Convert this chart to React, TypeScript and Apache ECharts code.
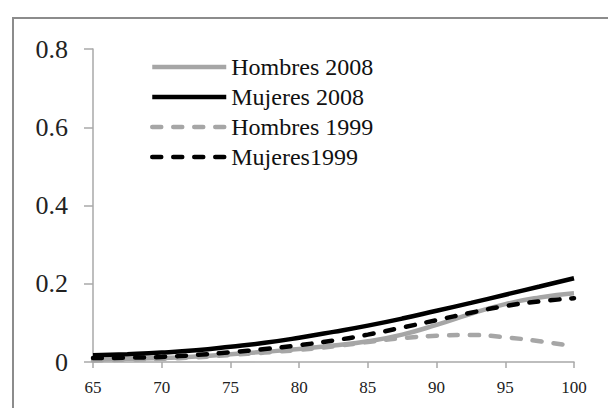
import React, { useEffect, useRef } from "react";
import * as echarts from "echarts";

const ages = [65, 67.5, 70, 72.5, 75, 77.5, 80, 82.5, 85, 87.5, 90, 92.5, 95, 97.5, 100];
const hombres2008 = [0.006, 0.008, 0.010, 0.014, 0.020, 0.026, 0.033, 0.042, 0.053, 0.070, 0.095, 0.123, 0.148, 0.165, 0.176];
const mujeres2008 = [0.017, 0.020, 0.024, 0.030, 0.039, 0.049, 0.062, 0.077, 0.093, 0.111, 0.131, 0.151, 0.172, 0.193, 0.214];
const hombres1999 = [0.004, 0.006, 0.008, 0.012, 0.018, 0.024, 0.031, 0.040, 0.051, 0.061, 0.067, 0.069, 0.063, 0.053, 0.040];
const mujeres1999 = [0.010, 0.011, 0.013, 0.018, 0.025, 0.033, 0.043, 0.055, 0.070, 0.088, 0.107, 0.126, 0.143, 0.155, 0.163];
const seriesNames = ["Hombres 2008", "Mujeres 2008", "Hombres 1999", "Mujeres1999"];

const GRAY = "#a6a6a6";
const BLACK = "#000000";
const FONT = "Liberation Serif";
const DASH = [9, 12];

function pairs(vals: number[]) {
  return ages.map((a, i) => [a, vals[i]]);
}

export default function App() {
  const ref = useRef<HTMLDivElement>(null);
  useEffect(() => {
    if (!ref.current) return;
    const chart = echarts.init(ref.current, null, { renderer: "svg" });
    const styleFor = (color: string, dashed: boolean) => ({
      color,
      width: 4.5,
      type: dashed ? DASH : "solid",
      cap: dashed ? "round" : "butt",
      opacity: 1,
    });
    const mk = (name: string, vals: number[], color: string, dashed: boolean) => ({
      name,
      type: "line",
      data: pairs(vals),
      smooth: true,
      symbol: "none",
      color,
      lineStyle: styleFor(color, dashed),
    });
    const legendItem = (name: string, color: string, dashed: boolean) => ({
      name,
      itemStyle: { opacity: 0 },
      lineStyle: styleFor(color, dashed),
    });
    chart.setOption({
      animation: false,
      backgroundColor: "#ffffff",
      graphic: [
        {
          type: "rect",
          shape: { x: 13, y: 18, width: 700, height: 500 },
          style: { fill: "none", stroke: "#8c8c8c", lineWidth: 2 },
          silent: true,
        },
      ],
      legend: {
        orient: "vertical",
        left: 150,
        top: 55,
        padding: 0,
        itemWidth: 74,
        itemHeight: 14,
        itemGap: 6,
        itemStyle: { opacity: 0 },
        data: [
          legendItem(seriesNames[0], GRAY, false),
          legendItem(seriesNames[1], BLACK, false),
          legendItem(seriesNames[2], GRAY, true),
          legendItem(seriesNames[3], BLACK, true),
        ],
        textStyle: { fontFamily: FONT, fontSize: 24, color: "#111", lineHeight: 24 },
      },
      grid: { left: 93, top: 49, width: 481, height: 313, containLabel: false },
      xAxis: {
        type: "value",
        min: 65,
        max: 100,
        interval: 5,
        axisLine: { show: true, lineStyle: { color: "#a8a8a8", width: 1.5 } },
        axisTick: { show: true, length: 6, lineStyle: { color: "#a8a8a8", width: 1.5 } },
        axisLabel: { fontFamily: FONT, fontSize: 17, color: "#222", margin: 17 },
        splitLine: { show: false },
      },
      yAxis: {
        type: "value",
        min: 0,
        max: 0.8,
        interval: 0.2,
        axisLine: { show: true, lineStyle: { color: "#a8a8a8", width: 1.5 } },
        axisTick: { show: true, inside: false, length: 9, lineStyle: { color: "#a8a8a8", width: 1.5 } },
        axisLabel: { fontFamily: FONT, fontSize: 26, color: "#222", margin: 25 },
        splitLine: { show: false },
      },
      series: [
        mk(seriesNames[0], hombres2008, GRAY, false),
        mk(seriesNames[1], mujeres2008, BLACK, false),
        mk(seriesNames[2], hombres1999, GRAY, true),
        mk(seriesNames[3], mujeres1999, BLACK, true),
      ],
    });
    return () => chart.dispose();
  }, []);
  return <div ref={ref} style={{ width: 608, height: 408, position: "absolute", left: 0, top: 0 }} />;
}
